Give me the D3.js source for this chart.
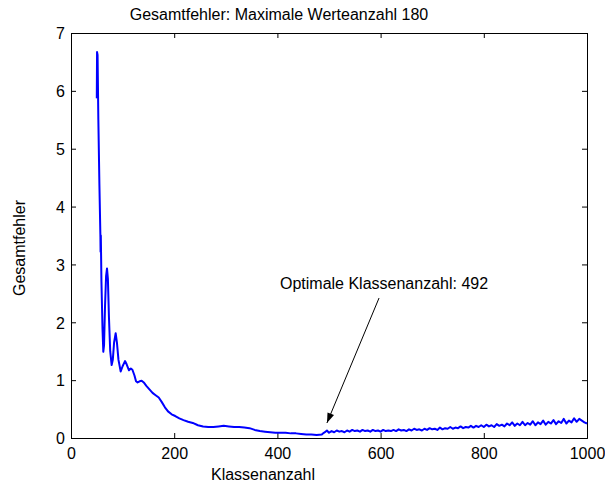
<!DOCTYPE html>
<html><head><meta charset="utf-8">
<script src="https://cdn.jsdelivr.net/npm/d3@7"></script>
<style>body{margin:0;background:#fff}svg{display:block}text{font-family:"Liberation Sans",Arial,sans-serif;fill:#000}</style>
</head><body><svg id="c" width="605" height="485"></svg>
<script>
const title = "Gesamtfehler: Maximale Werteanzahl 180";
const xLabel = "Klassenanzahl";
const yLabel = "Gesamtfehler";
const annotText = "Optimale Klassenanzahl: 492";
const xTicks = [0,200,400,600,800,1000];
const yTicks = [0,1,2,3,4,5,6,7];
// class counts
const klassen = [50,50.5,51.5,53,55,57,57.3,57.8,59,61,62.6,64,66,68,69.8,71.5,73.5,76,78.8,81,83.5,86.6,89,92,96.3,100,104.7,108,112.4,116,119,123,126,129,133,137,141,146,152,158,164,170,176,182,188,195,202,210,218,227,236,246,256,266,276,286,296,306,316,326,336,346,356,366,376,386,396,406,416,426,436,446,456,466,476,486,490,
492,496,500,505,510,515,520,525,530,535,540,545,550,555,560,565,570,575,580,585,590,595,600,605,610,615,620,625,630,635,640,645,650,655,660,665,670,675,680,685,690,695,700,705,710,715,720,725,730,735,740,745,750,755,760,765,770,775,780,785,790,795,800,805,810,815,820,825,830,835,840,845,850,855,860,865,870,875,880,885,890,895,900,905,910,915,920,925,930,935,940,945,950,955,960,965,970,975,980,985,990,995,1000];
// total error
const fehler = [5.87,6.67,6.62,5.5,4.4,3.47,3.22,3.5,2.7,1.9,1.49,1.6,2.3,2.8,2.93,2.75,2.1,1.5,1.26,1.35,1.65,1.81,1.65,1.35,1.15,1.24,1.33,1.27,1.17,1.2,1.18,1.08,0.98,0.96,0.98,0.99,0.96,0.9,0.84,0.78,0.74,0.7,0.62,0.53,0.46,0.41,0.38,0.34,0.31,0.28,0.26,0.22,0.2,0.19,0.19,0.2,0.21,0.2,0.19,0.19,0.18,0.17,0.14,0.12,0.11,0.1,0.09,0.09,0.09,0.08,0.08,0.07,0.06,0.06,0.05,0.06,0.09,
0.10,0.13,0.09,0.12,0.10,0.13,0.11,0.12,0.10,0.13,0.11,0.14,0.12,0.13,0.11,0.14,0.12,0.13,0.11,0.14,0.12,0.13,0.11,0.14,0.12,0.13,0.12,0.14,0.12,0.15,0.13,0.14,0.12,0.15,0.13,0.16,0.14,0.15,0.13,0.16,0.14,0.17,0.15,0.16,0.14,0.18,0.15,0.17,0.16,0.19,0.16,0.18,0.17,0.20,0.17,0.19,0.18,0.21,0.18,0.21,0.19,0.22,0.19,0.23,0.20,0.22,0.19,0.24,0.21,0.23,0.20,0.25,0.22,0.27,0.21,0.25,0.22,0.28,0.22,0.26,0.23,0.29,0.22,0.27,0.24,0.30,0.23,0.28,0.25,0.31,0.24,0.29,0.26,0.33,0.25,0.30,0.27,0.34,0.28,0.33,0.30,0.27,0.25];
// annotation: [text x, text y, arrow start x, arrow start y, arrow tip x, arrow tip y] in data units
const annot = [405,2.57,597,2.42,496,0.26];

const svg = d3.select("#c");
const x = d3.scaleLinear().domain([0,1000]).range([71,587]);
const y = d3.scaleLinear().domain([0,7]).range([438,33]);
const fs = 16;

// axes
const gx = svg.append("g").attr("transform",`translate(0,${y(0)})`)
  .call(d3.axisBottom(x).tickValues(xTicks).tickSize(-5).tickPadding(10).tickFormat(d3.format("d")));
const gxt = svg.append("g").attr("transform",`translate(0,${y(7)})`)
  .call(d3.axisTop(x).tickValues(xTicks).tickSize(-5).tickFormat(""));
const gy = svg.append("g").attr("transform",`translate(${x(0)},0)`)
  .call(d3.axisLeft(y).tickValues(yTicks).tickSize(-5).tickPadding(6).tickFormat(d3.format("d")));
const gyr = svg.append("g").attr("transform",`translate(${x(1000)},0)`)
  .call(d3.axisRight(y).tickValues(yTicks).tickSize(-5).tickFormat(""));
[gx,gxt,gy,gyr].forEach(g=>{
  g.selectAll("path").attr("stroke","#000").attr("stroke-width",1);
  g.selectAll("line").attr("stroke","#000").attr("stroke-width",1);
  g.selectAll("text").style("font-size",fs+"px").style("font-family",'"Liberation Sans",Arial,sans-serif').attr("fill","#000");
});
gy.selectAll("text").attr("dy","0.36em");

// line
const pts = klassen.map((k,i)=>[k,fehler[i]]);
svg.append("path").datum(pts)
  .attr("fill","none").attr("stroke","#0000ff").attr("stroke-width",2).attr("stroke-linejoin","round")
  .attr("d",d3.line().x(d=>x(d[0])).y(d=>y(d[1])));

// title & labels
svg.append("text").attr("x",279).attr("y",20).attr("text-anchor","middle").style("font-size",fs+"px").text(title);
svg.append("text").attr("x",263).attr("y",480).attr("text-anchor","middle").style("font-size",fs+"px").text(xLabel);
svg.append("text").attr("transform","translate(25,248) rotate(-90)").attr("text-anchor","middle").style("font-size",fs+"px").text(yLabel);

// annotation
svg.append("text").attr("x",x(annot[0])).attr("y",y(annot[1])).style("font-size",fs+"px").text(annotText);
const x1=x(annot[2]),y1=y(annot[3]),x2=x(annot[4]),y2=y(annot[5]);
svg.append("line").attr("x1",x1).attr("y1",y1).attr("x2",x2).attr("y2",y2).attr("stroke","#000").attr("stroke-width",1);
const ang=Math.atan2(y2-y1,x2-x1), L=10, W=3.5;
const bx=x2-L*Math.cos(ang), by=y2-L*Math.sin(ang);
const px=-Math.sin(ang), py=Math.cos(ang);
svg.append("path").attr("d",`M${x2},${y2}L${bx+W*px},${by+W*py}L${bx-W*px},${by-W*py}Z`).attr("fill","#000");
</script></body></html>
